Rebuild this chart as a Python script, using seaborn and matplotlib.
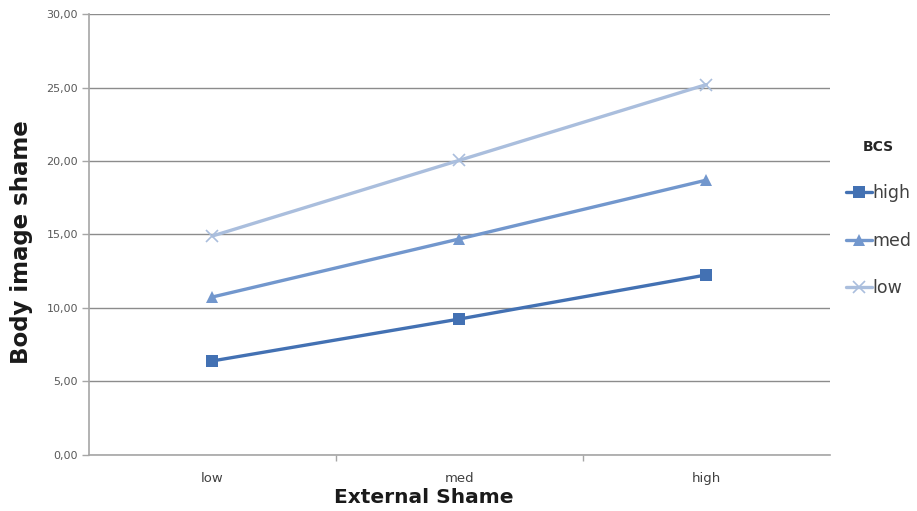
import pandas as pd
import numpy as np
import seaborn as sns
import matplotlib.pyplot as plt
from matplotlib.lines import Line2D
from matplotlib.ticker import FuncFormatter, FixedLocator

# dados
niveis_ext = ['low', 'med', 'high']
bcs_grupos = ['high', 'med', 'low']
bcs_high = [6.4, 9.25, 12.25]
bcs_med = [10.75, 14.7, 18.7]
bcs_low = [14.9, 20.05, 25.2]

dados = pd.DataFrame({
    'External Shame': niveis_ext * 3,
    'BCS': [g for g in bcs_grupos for _ in niveis_ext],
    'Body image shame': bcs_high + bcs_med + bcs_low,
})

cores = {'high': '#4371B3', 'med': '#7297CD', 'low': '#AABEDD'}
marcadores = {'high': 's', 'med': '^', 'low': 'x'}

sns.set_style('white')
plt.rcParams['font.family'] = ['DejaVu Sans']

fig = plt.figure(figsize=(9.17, 5.11), dpi=100)
ax = fig.add_axes([0.097, 0.1096, 0.808, 0.863])

# uma linha por grupo (marcadores cheios e 'x' não se misturam no seaborn)
for g in bcs_grupos:
    sub = dados[dados['BCS'] == g]
    eh_x = marcadores[g] == 'x'
    sns.lineplot(data=sub, x='External Shame', y='Body image shame',
                 color=cores[g], marker=marcadores[g], linewidth=2.4,
                 markersize=8 if eh_x else 9,
                 markeredgewidth=1.2 if eh_x else 0,
                 markeredgecolor=cores[g], sort=False, ax=ax)

ax.set_xlim(-0.5, 2.5)
ax.set_ylim(0, 30)
ax.set_yticks(np.arange(0, 31, 5))
ax.yaxis.set_major_formatter(FuncFormatter(lambda v, p: f'{v:.2f}'.replace('.', ',')))
ax.yaxis.grid(True, color='#8c8c8c', linewidth=1)
ax.set_axisbelow(True)

for lado in ['top', 'right']:
    ax.spines[lado].set_visible(False)
for lado in ['left', 'bottom']:
    ax.spines[lado].set_color('#a6a6a6')
    ax.spines[lado].set_linewidth(1.2)

ax.tick_params(axis='y', colors='#a6a6a6', length=5, width=1, labelsize=8,
               labelcolor='#595959', pad=3, direction='out', left=True)
ax.tick_params(axis='x', which='major', length=0, labelsize=9.5, labelcolor='#404040', pad=12)
ax.xaxis.set_minor_locator(FixedLocator([0.5, 1.5]))
ax.tick_params(axis='x', which='minor', length=4, width=1, color='#a6a6a6',
               direction='out', bottom=True)

ax.set_xlabel('External Shame', fontsize=14.5, fontweight='bold', color='#1a1a1a')
ax.xaxis.set_label_coords(0.452, -0.074)
ax.set_ylabel('Body image shame', fontsize=16.5, fontweight='bold', color='#1a1a1a')
ax.yaxis.set_label_coords(-0.075, 0.483)

alcas = [Line2D([0], [0], color=cores[g], marker=marcadores[g], linewidth=2.4,
                markersize=8, markeredgewidth=1.2 if g == 'low' else 0,
                markeredgecolor=cores[g]) for g in bcs_grupos]
leg = ax.legend(alcas, bcs_grupos, title='BCS', loc='upper left',
                bbox_to_anchor=(1.0, 0.75), frameon=False, fontsize=12.5,
                labelspacing=1.72, handlelength=1.5, handletextpad=0.05,
                title_fontproperties={'weight': 'bold', 'size': 10})
leg._legend_box.align = 'center'
for t in leg.get_texts():
    t.set_color('#404040')

fig.savefig('out.png', dpi=100)
